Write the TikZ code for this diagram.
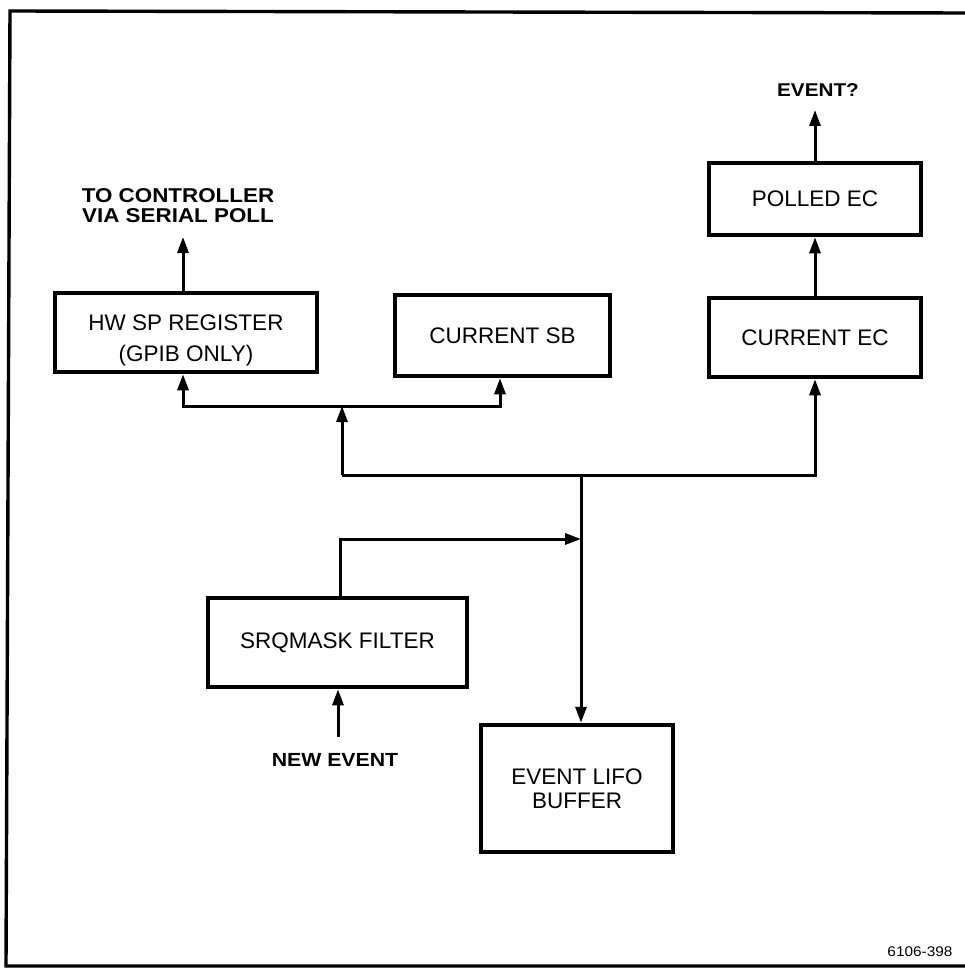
\documentclass[tikz,border=0pt]{standalone}
\usepackage{fontspec}
\setmainfont{Liberation Sans}
\newfontfamily\lblfont[FakeStretch=1.12]{Liberation Sans}
\newfontfamily\numfont[FakeStretch=1.1]{Liberation Sans}
\usetikzlibrary{arrows.meta}
\begin{document}
\begin{tikzpicture}[x=1pt,y=-1pt,
  blk/.style={draw, line width=4.5pt, inner sep=0pt, align=center,
    font=\fontsize{22.5}{31}\selectfont},
  lbl/.style={inner sep=0pt, align=center,
    font=\lblfont\bfseries\fontsize{20}{20}\selectfont},
  tip/.tip={Triangle[length=16pt,width=11pt]},
  conn/.style={line width=3pt, -tip},
  wire/.style={line width=3pt}]
\useasboundingbox (0,0) rectangle (965,968);
% frame
\draw[line width=3.4pt] (965,13) -- (10,11) -- (6,966) -- (965,966);

% blocks
\node[blk, minimum width=262pt, minimum height=79pt] (hw) at (186,332.5) {\rule{0pt}{32pt}HW SP REGISTER\\(GPIB ONLY)};
\node[blk, minimum width=215pt, minimum height=81pt] (sb) at (502.5,335.5) {CURRENT SB};
\node[blk, minimum width=212pt, minimum height=79pt] (ec) at (815,337.5) {CURRENT EC};
\node[blk, minimum width=212pt, minimum height=72pt] (pec) at (815,199) {POLLED EC};
\node[blk, minimum width=259pt, minimum height=89pt] (srq) at (337.5,642.5) {SRQMASK FILTER};
\node[blk, minimum width=192pt, minimum height=127pt] (lifo) at (577,788.5) {EVENT LIFO\\[-7pt]BUFFER};

% labels
\node[lbl] (tc) at (178,206) {TO CONTROLLER\\VIA SERIAL POLL};
\node[lbl, font=\lblfont\bfseries\fontsize{18.5}{20}\selectfont] (ev) at (818,90) {EVENT?};
\node[lbl, font=\lblfont\bfseries\fontsize{19}{20}\selectfont] (ne) at (335,760) {NEW EVENT};
\node[inner sep=0pt, font=\numfont\fontsize{14}{16}\selectfont] (id) at (920,952) {6106-398};

% coordinates
\coordinate (tcend) at (183,237);
\coordinate (evend) at (815,110);
\coordinate (j1) at (342,475);
\coordinate (j2) at (581,475);
\coordinate (j4) at (342,406);
\coordinate (hb) at (183,406);
\coordinate (sbb) at (500,406);
\coordinate (jm) at (581,539);
\coordinate (nes) at (338,737);

% connectors
\draw[conn] ([xshift=-3pt]hw.north) -- (tcend);
\draw[conn] (pec.north) -- (evend);
\draw[conn] (ec.north) -- (pec.south);
\draw[conn] (j1) -| (ec.south);
\draw[conn] (j1) -- (j4);
\draw[line width=3pt, tip-tip] ([xshift=-3pt]hw.south) -- (hb) -- (sbb) -- ([xshift=-2.5pt]sb.south);
\draw[conn] (j2) -- (j2 |- lifo.north);
\draw[conn] ([xshift=2.5pt]srq.north) |- (jm);
\draw[conn] (nes) -- (nes |- srq.south);
\end{tikzpicture}
\end{document}
